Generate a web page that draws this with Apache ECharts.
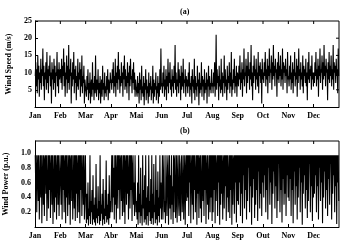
<!DOCTYPE html>
<html><head><meta charset="utf-8">
<script src="https://cdn.jsdelivr.net/npm/echarts@6/dist/echarts.min.js"></script>
<style>html,body{margin:0;padding:0;background:#fff}#c{width:347px;height:245px}</style>
</head><body><div id="c"></div>
<script>
const months = ['Jan','Feb','Mar','Apr','Mai','Jun','Jul','Aug','Sep','Oct','Nov','Dec'];
const monthsB = ['Jan','Feb','Mar','Abr','Mai','Jun','Jul','Aug','Sep','Out','Nov','Dec'];
const speedTicks = [5,10,15,20,25];
const powerTicks = [0.2,0.4,0.6,0.8,1.0];
// wind speed (m/s), 50 readings per month
const speedJan=[9,13,6,11,4,15,8,12,3,10,7,14,5,11,9,17,6,12,2,10,8,13,5,16,7,11,4,12,9,15,6,10,1,13,8,11,5,14,7,12,3,10,9,16,6,11,4,13,8,10];
const speedFeb=[11,7,14,5,12,9,17,6,13,3,10,8,15,4,12,7,18,5,11,9,14,1,10,6,13,8,16,4,11,7,12,2,9,6,14,5,10,8,13,3,11,6,15,4,9,7,12,1,8,6];
const speedMar=[6,3,9,5,11,2,7,4,10,1,6,8,3,13,5,7,2,9,4,15,6,3,8,5,11,2,7,4,9,1,6,8,3,12,5,7,2,10,4,6,3,9,5,11,2,8,6,4,10,7];
const speedApr=[8,5,11,7,13,4,9,6,14,3,10,7,12,5,16,8,11,4,9,6,13,7,10,3,12,8,15,5,11,6,9,4,13,7,10,2,12,6,14,8,9,4,11,7,13,5,10,3,8,6];
const speedMai=[6,3,9,4,7,1,10,5,8,2,12,4,6,3,9,0.5,7,5,11,2,8,4,6,1,10,3,7,5,9,2,6,4,12,1,8,3,7,5,10,2,6,4,9,1,7,3,11,5,17,6];
const speedJun=[7,4,10,6,12,3,8,5,11,2,9,6,14,4,10,7,13,5,8,3,11,6,9,4,12,7,18,5,10,3,8,6,13,4,11,7,9,2,12,5,10,6,14,4,8,7,11,3,9,6];
const speedJul=[8,4,10,6,13,3,7,5,9,1,11,6,8,4,14,2,9,5,7,3,12,6,8,0.5,10,4,7,5,13,3,9,6,8,2,11,4,7,5,10,1,8,6,12,3,9,5,7,4,11,6];
const speedAug=[7,4,10,6,13,3,8,21,5,11,7,9,2,12,6,8,4,14,5,10,3,9,7,15,4,11,6,8,2,12,5,9,7,13,4,10,6,16,3,8,5,11,7,14,4,9,6,12,3,10];
const speedSep=[9,6,12,8,15,5,10,7,13,3,11,8,17,6,10,9,14,4,12,7,16,9,11,5,13,8,18,6,10,2,12,7,15,9,11,5,14,8,10,6,16,4,12,9,13,7,11,1,14,8];
const speedOct=[10,7,13,9,16,6,11,8,14,4,12,9,17,7,11,10,15,5,13,8,18,9,12,6,14,10,11,3,13,8,16,7,12,9,15,6,11,8,17,5,13,10,12,7,14,9,11,4,16,8];
const speedNov=[9,6,12,8,15,5,10,7,13,4,11,9,16,6,10,8,14,3,12,7,17,9,11,5,13,8,10,6,15,4,12,9,11,7,14,6,10,2,13,8,16,7,11,9,12,5,15,8,10,6];
const speedDec=[10,7,13,9,16,6,11,8,14,3,12,9,17,7,11,10,15,5,13,8,18,9,12,6,14,10,11,2,13,8,16,7,12,9,15,6,11,8,18,5,13,10,12,7,14,9,11,4,17,9];
// wind power (p.u.), 50 readings per month
const powJan=[.97,.5,.97,.2,.8,.97,.35,.97,.1,.6,.97,.4,.97,.05,.7,.97,.3,.97,.15,.9,.97,.45,.97,.08,.6,.97,.25,.97,.5,.97,.12,.8,.97,.3,.97,.04,.65,.97,.2,.97,.4,.97,.1,.75,.97,.3,.97,.15,.55,.97];
const powFeb=[.97,.3,.97,.1,.97,.5,.97,.2,.85,.97,.05,.97,.4,.97,.15,.7,.97,.3,.97,.03,.9,.97,.35,.97,.1,.6,.97,.25,.97,.08,.97,.45,.97,.12,.8,.97,.2,.97,.05,.97,.5,.97,.15,.7,.97,.3,.97,.1,.6,.97];
const powMar=[.3,.05,.45,.1,.6,.02,.25,.15,.97,.04,.35,.2,.5,.03,.7,.1,.3,.06,.4,.02,.85,.12,.25,.05,.55,.15,.35,.03,.97,.08,.3,.18,.45,.02,.65,.1,.25,.04,.5,.15,.9,.06,.3,.1,.45,.03,.7,.12,.35,.2];
const powApr=[.6,.97,.2,.97,.4,.8,.1,.97,.3,.97,.05,.7,.97,.25,.97,.5,.97,.1,.9,.97,.35,.97,.15,.6,.97,.2,.97,.04,.85,.97,.3,.97,.45,.97,.1,.7,.97,.25,.97,.5,.97,.08,.8,.97,.3,.6,.15,.97,.4,.2];
const powMai=[.35,.1,.6,.03,.97,.2,.45,.05,.8,.15,.3,.02,.97,.25,.5,.06,.7,.1,.97,.03,.4,.15,.55,.02,.97,.2,.35,.08,.65,.04,.97,.12,.45,.03,.85,.2,.3,.05,.97,.1,.5,.02,.75,.15,.4,.06,.97,.25,.6,.1];
const powJun=[.4,.97,.1,.6,.97,.2,.35,.05,.97,.5,.15,.8,.97,.03,.45,.97,.25,.7,.1,.97,.3,.55,.04,.97,.2,.9,.97,.12,.4,.97,.06,.65,.97,.3,.15,.97,.5,.08,.85,.97,.2,.45,.97,.1,.6,.97,.03,.75,.97,.35];
const powJul=[.97,.4,.97,.15,.97,.6,.97,.05,.8,.97,.3,.97,.1,.97,.5,.97,.2,.7,.97,.03,.97,.45,.97,.12,.9,.97,.25,.97,.06,.6,.97,.35,.97,.15,.97,.5,.97,.04,.8,.97,.3,.97,.1,.65,.97,.2,.97,.4,.97,.08];
const powAug=[.97,.2,.97,.5,.97,.05,.97,.35,.8,.97,.15,.97,.6,.97,.03,.97,.3,.97,.45,.97,.1,.85,.97,.25,.97,.55,.97,.08,.97,.4,.97,.2,.7,.97,.12,.97,.5,.97,.03,.97,.3,.9,.97,.18,.97,.6,.97,.06,.97,.35];
const powSep=[.97,.3,.97,.6,.97,.15,.97,.45,.97,.05,.97,.7,.97,.25,.97,.5,.97,.1,.97,.35,.97,.8,.97,.2,.97,.55,.97,.03,.97,.4,.97,.65,.97,.12,.97,.3,.97,.5,.97,.08,.97,.75,.97,.25,.97,.45,.97,.15,.97,.6];
const powOct=[.97,.4,.97,.7,.97,.2,.97,.5,.97,.1,.97,.8,.97,.3,.97,.6,.97,.04,.97,.45,.97,.75,.97,.25,.97,.55,.97,.12,.97,.35,.97,.85,.97,.2,.97,.5,.97,.06,.97,.65,.97,.3,.97,.45,.97,.15,.97,.7,.97,.4];
const powNov=[.97,.35,.97,.65,.97,.15,.97,.5,.97,.05,.97,.75,.97,.3,.97,.55,.97,.1,.97,.4,.97,.8,.97,.2,.97,.6,.97,.03,.97,.45,.97,.7,.97,.25,.97,.5,.97,.12,.97,.35,.97,.85,.97,.2,.97,.55,.97,.08,.97,.4];
const powDec=[.97,.45,.97,.7,.97,.2,.97,.55,.97,.1,.97,.8,.97,.35,.97,.6,.97,.05,.97,.4,.97,.75,.97,.25,.97,.5,.97,.15,.97,.65,.97,.3,.97,.85,.97,.1,.97,.45,.97,.7,.97,.2,.97,.55,.97,.04,.97,.6,.97,.35];

const speed=[].concat(speedJan,speedFeb,speedMar,speedApr,speedMai,speedJun,speedJul,speedAug,speedSep,speedOct,speedNov,speedDec);
const power=[].concat(powJan,powFeb,powMar,powApr,powMai,powJun,powJul,powAug,powSep,powOct,powNov,powDec);
const perMonth=50;
const toXY = arr => arr.map((v,i)=>[(i+0.5)/perMonth, v]);

const FONT='Liberation Serif';
const lab={fontFamily:FONT,fontWeight:'bold',fontSize:8,color:'#000'};
const axLine={onZero:false,lineStyle:{color:'#000',width:1}};
const tick={show:true,inside:true,length:3,lineStyle:{color:'#000'}};
const option={
  animation:false,
  title:[
    {text:'(a)',left:180,top:8,padding:0,textStyle:{...lab}},
    {text:'(b)',left:180,top:127,padding:0,textStyle:{...lab}}
  ],
  grid:[
    {left:35,right:8,height:86,top:21,outerBoundsMode:'none'},
    {left:35,right:8,height:86,top:141,outerBoundsMode:'none'}
  ],
  xAxis:[
    {type:'value',gridIndex:0,min:0,max:12,interval:1,
     axisLine:{show:true,...axLine},axisTick:tick,splitLine:{show:false},
     axisLabel:{...lab,margin:5,formatter:v=> (v<12? months[Math.round(v)]:''),showMaxLabel:false}},
    {type:'value',gridIndex:1,min:0,max:12,interval:1,
     axisLine:{show:true,...axLine},axisTick:tick,splitLine:{show:false},
     axisLabel:{...lab,margin:5,formatter:v=> (v<12? monthsB[Math.round(v)]:''),showMaxLabel:false}}
  ],
  yAxis:[
    {type:'value',gridIndex:0,min:0,max:25,interval:5,
     name:'Wind Speed (m/s)',nameLocation:'middle',nameGap:20,nameTextStyle:{...lab},
     axisLine:{show:true,...axLine},axisTick:tick,
     splitLine:{show:false},axisLabel:{...lab,margin:3,formatter:v=>speedTicks.includes(v)?String(v):''}},
    {type:'value',gridIndex:1,min:0,max:1.162,interval:0.2,
     name:'Wind Power (p.u.)',nameLocation:'middle',nameGap:22,nameTextStyle:{...lab},
     axisLine:{show:true,...axLine},axisTick:{show:false},
     splitLine:{show:false},
     axisLabel:{...lab,margin:4,showMaxLabel:false,formatter:v=>(powerTicks.some(t=>Math.abs(t-v)<1e-6))? v.toFixed(1):''}}
  ],
  series:[
    {type:'line',xAxisIndex:0,yAxisIndex:0,data:toXY(speed),showSymbol:false,
     lineStyle:{color:'#000',width:1.1}},
    {type:'line',xAxisIndex:1,yAxisIndex:1,data:toXY(power),showSymbol:false,
     lineStyle:{color:'#000',width:1.1}}
  ]
};
const chart=echarts.init(document.getElementById('c'));
chart.setOption(option);

// frame (top and right edges) plus inward ticks, placed through the axes' own scales
function frameFor(gi, yMax, rightTicks){
  const f={xAxisIndex:gi,yAxisIndex:gi};
  const tl=chart.convertToPixel(f,[0,yMax]);
  const br=chart.convertToPixel(f,[12,0]);
  const els=[];
  const st={stroke:'#000',lineWidth:1};
  els.push({type:'line',z:100,shape:{x1:tl[0],y1:tl[1],x2:br[0],y2:tl[1]},style:st});
  els.push({type:'line',z:100,shape:{x1:br[0],y1:tl[1],x2:br[0],y2:br[1]},style:st});
  for(let m=1;m<12;m++){
    const p=chart.convertToPixel(f,[m,yMax]);
    els.push({type:'line',z:100,shape:{x1:p[0],y1:p[1],x2:p[0],y2:p[1]+3},style:st});
  }
  rightTicks.forEach(v=>{
    const p=chart.convertToPixel(f,[12,v]);
    els.push({type:'line',z:100,shape:{x1:p[0]-3,y1:p[1],x2:p[0],y2:p[1]},style:st});
  });
  return els;
}
chart.setOption({graphic:{elements:[].concat(frameFor(0,25,[5,10,15,20]),frameFor(1,1.162,[]))}});
</script></body></html>
